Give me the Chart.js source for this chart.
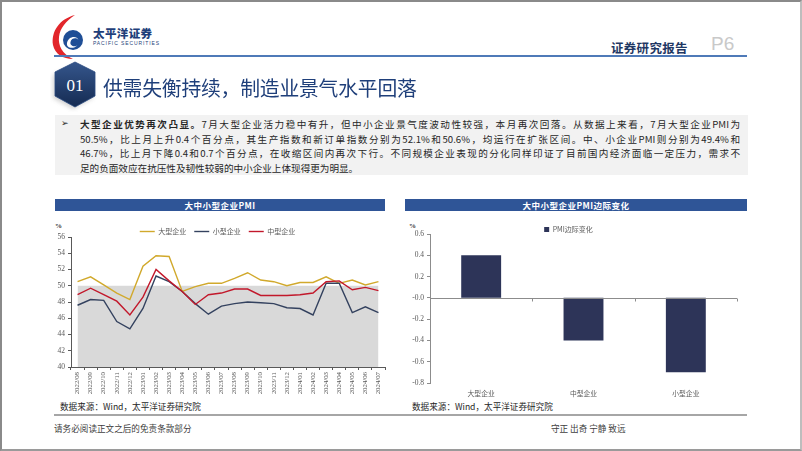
<!DOCTYPE html>
<html><head><meta charset="utf-8">
<script src="https://cdn.jsdelivr.net/npm/chart.js@4/dist/chart.umd.min.js"></script>
<style>
html,body{margin:0;padding:0;background:#fff;}
#page{position:relative;width:802px;height:451px;overflow:hidden;font-family:"Noto Sans CJK SC",sans-serif;background:#fff;}
.abs{position:absolute;white-space:nowrap;}
#frame{position:absolute;left:0;top:0;width:802px;height:451px;box-sizing:border-box;border:2px solid #8a8a8a;border-right-color:#bdbdbd;border-bottom-color:#9a9a9a;pointer-events:none;}
.para{position:absolute;left:80px;width:660px;font-size:9.6px;line-height:14px;color:#262626;text-align:justify;text-align-last:justify;white-space:nowrap;}
.tbar{position:absolute;height:12px;background:#2f5597;color:#fff;font-size:8.5px;font-weight:bold;line-height:12px;text-align:center;letter-spacing:0.5px;}
.src{position:absolute;font-size:8.6px;color:#262626;}
.pct{position:absolute;font-size:7px;color:#404040;font-family:"Liberation Serif",serif;font-weight:bold;}
</style></head>
<body>
<div id="page">
  <!-- logo -->
  <svg class="abs" style="left:51px;top:14px" width="40" height="46" viewBox="0 0 40 46">
    <path d="M24 1 C8 5 0 18 2 31 C4 40 12 45 22 45 C11 40 7 31 8 23 C9 14 15 7 24 1 Z" fill="#e2262b"/>
    <circle cx="22" cy="26" r="10" fill="#1f4e96"/>
    <path d="M16 29 C17 22 26 21 27.5 26 C26 23.5 20.5 23.5 19.5 28 C18.5 32 24 33.5 26.5 31 C23 35.5 15 34.5 16 29 Z" fill="#fff"/>
  </svg>
  <div class="abs" style="left:93px;top:25px;font-size:11.5px;font-weight:900;color:#1f3f7a;letter-spacing:0.4px">太平洋证券</div>
  <div class="abs" style="left:93px;top:40px;font-size:5px;color:#1f3f7a;letter-spacing:0.9px;font-family:'Liberation Sans',sans-serif">PACIFIC SECURITIES</div>
  <div class="abs" style="left:611px;top:38px;font-size:12.5px;color:#1f3864;font-weight:bold;letter-spacing:0.3px">证券研究报告</div>
  <div class="abs" style="left:711px;top:33px;font-size:19px;color:#c9c9c9;font-family:'Liberation Sans',sans-serif">P6</div>
  <div class="abs" style="left:54px;top:55px;width:693px;height:2px;background:#4f7ab8"></div>
  <!-- badge -->
  <svg class="abs" style="left:50px;top:60px" width="52" height="52" viewBox="0 0 52 52">
    <defs><linearGradient id="bg" x1="0" y1="0" x2="0" y2="1"><stop offset="0" stop-color="#35568c"/><stop offset="1" stop-color="#152b52"/></linearGradient>
    <filter id="sh" x="-30%" y="-30%" width="160%" height="160%"><feGaussianBlur stdDeviation="2"/></filter></defs>
    <path d="M23 6 L43 15 L43 38 L23 49 L3 38 L3 15 Z" fill="#9a9a9a" opacity="0.45" filter="url(#sh)"/>
    <path d="M25 2 L45 12 L45 36 L25 47 L5 36 L5 12 Z" fill="url(#bg)" stroke="#2a4a80" stroke-width="0.8" stroke-linejoin="round"/>
    <text x="25" y="30.5" text-anchor="middle" fill="#fff" font-family="Liberation Serif" font-size="17">01</text>
  </svg>
  <div class="abs" style="left:103px;top:73px;font-size:20px;color:#1f3f7a;letter-spacing:-0.2px;transform:scaleX(0.99);transform-origin:left">供需失衡持续，制造业景气水平回落</div>
  <!-- text box -->
  <div class="abs" style="left:55px;top:115px;width:693px;height:60px;background:#f2f2f2"></div>
  <div class="abs" style="left:61px;top:116px;font-size:9px;color:#262626">➢</div>
  <div class="para" style="top:117px"><b>大型企业优势再次凸显。</b>7月大型企业活力稳中有升，但中小企业景气度波动性较强，本月再次回落。从数据上来看，7月大型企业PMI为</div>
  <div class="para" style="top:131.5px">50.5%，比上月上升0.4个百分点，其生产指数和新订单指数分别为52.1%和50.6%，均运行在扩张区间。中、小企业PMI则分别为49.4%和</div>
  <div class="para" style="top:146px">46.7%，比上月下降0.4和0.7个百分点，在收缩区间内再次下行。不同规模企业表现的分化同样印证了目前国内经济面临一定压力，需求不</div>
  <div class="para" style="top:160.5px;text-align-last:left;width:auto">足的负面效应在抗压性及韧性较弱的中小企业上体现得更为明显。</div>
  <!-- chart titles -->
  <div class="tbar" style="left:55px;top:199px;width:330px">大中小型企业PMI</div>
  <div class="tbar" style="left:405px;top:199px;width:342px">大中小型企业PMI边际变化</div>
  <div class="pct" style="left:55px;top:222px">%</div>
  <div class="pct" style="left:409px;top:222px">%</div>
  <div class="abs" style="left:50px;top:220px;width:340px;height:180px"><canvas id="c1" width="340" height="180"></canvas></div>
  <div class="abs" style="left:400px;top:220px;width:350px;height:180px"><canvas id="c2" width="350" height="180"></canvas></div>
  <div class="src" style="left:60px;top:400px">数据来源：Wind，太平洋证券研究院</div>
  <div class="src" style="left:412px;top:400px">数据来源：Wind，太平洋证券研究院</div>
  <div class="abs" style="left:54px;top:414px;width:693px;height:1.5px;background:#a6a6a6"></div>
  <div class="src" style="left:54px;top:422px;color:#404040">请务必阅读正文之后的免责条款部分</div>
  <div class="src" style="left:551px;top:422px;color:#404040">守正 出奇 宁静 致远</div>
  <div id="frame"></div>
</div>
<script>
const months = ['2022/08','2022/09','2022/10','2022/11','2022/12','2023/01','2023/02','2023/03','2023/04','2023/05','2023/06','2023/07','2023/08','2023/09','2023/10','2023/11','2023/12','2024/01','2024/02','2024/03','2024/04','2024/05','2024/06','2024/07'];
const largePMI  = [50.5,51.1,50.1,49.1,48.3,52.4,53.7,53.6,49.3,49.9,50.3,50.3,50.9,51.6,50.7,50.5,50.0,50.4,50.4,51.1,50.3,50.7,50.1,50.5];
const smallPMI  = [47.6,48.3,48.2,45.6,44.7,47.2,51.2,50.5,49.3,47.8,46.5,47.5,47.8,48.0,47.9,47.8,47.3,47.2,46.4,50.3,50.3,46.7,47.4,46.7];
const mediumPMI = [48.9,49.7,48.9,48.1,46.4,48.6,52.0,50.6,49.3,47.7,48.9,49.1,49.6,49.6,48.8,48.8,48.8,48.9,49.1,50.5,50.6,49.5,49.8,49.4];
const boomBust  = [50,50,50,50,50,50,50,50,50,50,50,50,50,50,50,50,50,50,50,50,50,50,50,50];
const seriesNames = ['大型企业','小型企业','中型企业'];
const leftYMin = 40, leftYMax = 56, leftYStep = 2;

const sizeCategories = ['大型企业','中型企业','小型企业'];
const pmiChange = [0.4,-0.4,-0.7];
const changeName = 'PMI边际变化';
const rightYMin = -0.8, rightYMax = 0.6, rightYStep = 0.2;

const numFont = {family:'Liberation Serif', size:7.5};
const cjkFont = {family:'Noto Sans CJK SC', size:6.8};

function legendHeight(h){
  return {id:'legendH', beforeInit(chart){
    const orig = chart.legend.fit;
    chart.legend.fit = function(){ orig.call(this); this.height = h; };
  }};
}

new Chart(document.getElementById('c1'), {
  type:'line',
  data:{labels:months, datasets:[
    {label:seriesNames[0], data:largePMI, borderColor:'#d1a92c', backgroundColor:'#d1a92c', borderWidth:1.4, pointRadius:0, tension:0, order:3},
    {label:seriesNames[1], data:smallPMI, borderColor:'#34425f', backgroundColor:'#34425f', borderWidth:1.4, pointRadius:0, tension:0, order:2},
    {label:seriesNames[2], data:mediumPMI, borderColor:'#c2182b', backgroundColor:'#c2182b', borderWidth:1.4, pointRadius:0, tension:0, order:1},
    {label:'area', data:boomBust, borderWidth:0, borderColor:'rgba(0,0,0,0)', backgroundColor:'#d9d9d9', fill:'start', pointRadius:0, order:9}
  ]},
  options:{responsive:false, animation:false, events:[],
    layout:{padding:{left:0,right:5,top:0,bottom:0}},
    plugins:{tooltip:{enabled:false},
      legend:{display:true, position:'top', align:'center',
        labels:{filter:(it)=>it.text!=='area', sort:(a,b)=>a.datasetIndex-b.datasetIndex,
          usePointStyle:true, pointStyle:'line', pointStyleWidth:15, boxHeight:6, padding:8,
          color:'#595959', font:{family:'Noto Sans CJK SC', size:7}}}},
    scales:{
      x:{offset:true, grid:{display:true, offset:true, drawOnChartArea:false, tickLength:3, color:'#595959'},
         border:{display:true, color:'#595959', width:1},
         ticks:{minRotation:90, maxRotation:90, autoSkip:false, padding:2, color:'#595959', font:{family:'Liberation Serif', size:6.8}},
         afterFit:(s)=>{s.height=33;}},
      y:{min:leftYMin, max:leftYMax, ticks:{stepSize:leftYStep, color:'#595959', font:numFont, padding:3},
         grid:{display:true, drawOnChartArea:false, tickLength:3, color:'#595959'},
         border:{display:true, color:'#595959', width:1},
         afterFit:(s)=>{s.width=21;}}
    }},
  plugins:[legendHeight(17)]
});

const zeroLine = {id:'zeroLine', afterDatasetsDraw(chart){
  const {ctx, scales:{x,y}} = chart;
  const y0 = Math.round(y.getPixelForValue(0))+0.5;
  ctx.save();
  ctx.strokeStyle = '#8c8c8c'; ctx.lineWidth = 1;
  ctx.beginPath(); ctx.moveTo(x.left, y0); ctx.lineTo(x.right, y0);
  const n = x.ticks.length, w = (x.right - x.left)/n;
  for(let i=0;i<=n;i++){ const px = Math.round(x.left + i*w)+0.5; ctx.moveTo(px,y0); ctx.lineTo(px,y0+3); }
  ctx.stroke(); ctx.restore();
}};

new Chart(document.getElementById('c2'), {
  type:'bar',
  data:{labels:sizeCategories, datasets:[
    {label:changeName, data:pmiChange, backgroundColor:'#2d3458', borderWidth:0, categoryPercentage:1, barPercentage:0.39}
  ]},
  options:{responsive:false, animation:false, events:[],
    layout:{padding:{left:0,right:13,top:0,bottom:0}},
    plugins:{tooltip:{enabled:false},
      legend:{display:true, position:'top', align:'center',
        labels:{boxWidth:5, boxHeight:5, padding:6, color:'#595959', font:{family:'Noto Sans CJK SC', size:7}}}},
    scales:{
      x:{grid:{display:false, drawTicks:false}, border:{display:false},
         ticks:{color:'#595959', padding:6, font:cjkFont},
         afterFit:(s)=>{s.height=17;}},
      y:{min:rightYMin, max:rightYMax,
         ticks:{stepSize:rightYStep, color:'#595959', font:numFont, padding:3, callback:(v)=>Number(v).toFixed(1)},
         grid:{display:true, drawOnChartArea:false, tickLength:3, color:'#8c8c8c'},
         border:{display:true, color:'#8c8c8c', width:1},
         afterFit:(s)=>{s.width=30;}}
    }},
  plugins:[legendHeight(14), zeroLine]
});
</script>
</body></html>
